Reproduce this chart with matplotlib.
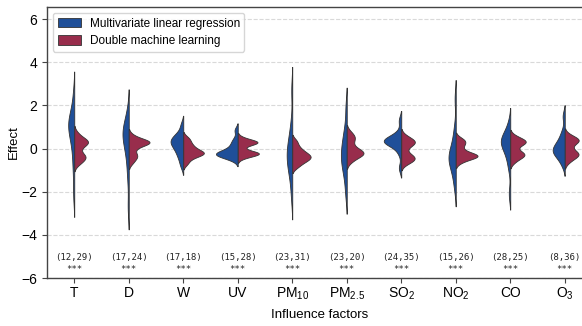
import numpy as np
import pandas as pd
import matplotlib
matplotlib.use("Agg")
import matplotlib.pyplot as plt
from matplotlib.patches import Patch
import seaborn as sns

# factors on the x axis
factors = ["T", "D", "W", "UV", "PM$_{10}$", "PM$_{2.5}$", "SO$_2$", "NO$_2$", "CO", "O$_3$"]
methods = ["Multivariate linear regression", "Double machine learning"]
colors = ["#1f4f99", "#982d4c"]

# effect samples per factor, multivariate linear regression
mlr = [
    [2.5, 1.7, 1.45, 1.3, 1.15, 1.0, 0.85, 0.6, 0.3, -0.3, -1.0, -2.1],
    [1.7, 1.2, 1.0, 0.85, 0.7, 0.55, 0.4, 0.15, -0.2, -0.7, -1.4, -2.7],
    [1.1, 0.75, 0.6, 0.5, 0.42, 0.35, 0.28, 0.2, 0.1, 0.0, -0.15, -0.3, -0.5, -0.8],
    [0.85, 0.45, 0.25, 0.1, -0.05, -0.15, -0.2, -0.23, -0.26, -0.29, -0.33, -0.38, -0.5],
    [2.7, 1.2, 0.6, 0.3, 0.05, -0.15, -0.35, -0.55, -0.75, -1.0, -1.4, -2.2],
    [1.9, 1.0, 0.6, 0.3, 0.05, -0.15, -0.35, -0.55, -0.75, -1.0, -1.4, -2.1],
    [1.3, 0.75, 0.5, 0.43, 0.39, 0.36, 0.33, 0.3, 0.25, 0.12, -0.2, -0.9],
    [2.3, 1.0, 0.5, 0.15, -0.1, -0.25, -0.38, -0.48, -0.58, -0.72, -0.95, -1.3, -1.8],
    [1.15, 0.75, 0.55, 0.45, 0.37, 0.3, 0.2, 0.05, -0.15, -0.45, -0.9, -2.1],
    [1.5, 0.8, 0.5, 0.3, 0.15, 0.05, -0.05, -0.12, -0.2, -0.3, -0.45, -0.75],
]

# effect samples per factor, double machine learning
dml = [
    [0.7, 0.5, 0.4, 0.35, 0.3, 0.25, 0.2, 0.1, -0.1, -0.3, -0.35, -0.4, -0.45, -0.6, -0.7],
    [0.6, 0.42, 0.36, 0.33, 0.3, 0.28, 0.25, 0.2, 0.12, -0.05, -0.25, -0.35, -0.45, -0.65],
    [0.5, 0.35, 0.2, 0.1, 0.0, -0.08, -0.15, -0.2, -0.22, -0.25, -0.3, -0.38, -0.5, -0.7],
    [0.48, 0.34, 0.31, 0.29, 0.27, 0.24, 0.1, -0.12, -0.19, -0.22, -0.24, -0.26, -0.29, -0.42],
    [0.35, 0.12, -0.05, -0.15, -0.25, -0.32, -0.38, -0.43, -0.5, -0.58, -0.68, -0.85],
    [0.75, 0.55, 0.48, 0.3, 0.1, -0.05, -0.12, -0.17, -0.22, -0.27, -0.33, -0.42, -0.6],
    [0.55, 0.4, 0.33, 0.28, 0.22, 0.1, -0.2, -0.35, -0.42, -0.48, -0.55, -0.65],
    [0.45, 0.33, 0.22, 0.05, -0.15, -0.25, -0.3, -0.34, -0.37, -0.4, -0.45, -0.62],
    [0.55, 0.4, 0.35, 0.3, 0.25, 0.15, -0.1, -0.22, -0.28, -0.33, -0.4, -0.6],
    [0.6, 0.45, 0.4, 0.35, 0.3, 0.1, -0.1, -0.2, -0.27, -0.33, -0.4, -0.6],
]

# annotation above each factor
pairs = ["(12,29)", "(17,24)", "(17,18)", "(15,28)", "(23,31)",
         "(23,20)", "(24,35)", "(15,26)", "(28,25)", "(8,36)"]
stars = ["***"] * 10

rows = []
for f, vals in zip(factors, mlr):
    for v in vals:
        rows.append((f, methods[0], v))
for f, vals in zip(factors, dml):
    for v in vals:
        rows.append((f, methods[1], v))
df = pd.DataFrame(rows, columns=["factor", "method", "effect"])

plt.rcParams['font.family'] = ['Liberation Sans', 'DejaVu Sans']
plt.rcParams['mathtext.fontset'] = 'custom'
plt.rcParams['mathtext.rm'] = 'Liberation Sans'
plt.rcParams['mathtext.it'] = 'Liberation Sans:italic'

fig = plt.figure(figsize=(5.82, 3.26), dpi=100)
ax = fig.add_axes([47/582, 48/326, 545/582, 271/326])

ax.set_axisbelow(True)
ax.yaxis.grid(True, linestyle='--', color='#d9d9d9', linewidth=0.8)

sns.violinplot(data=df, x="factor", y="effect", hue="method", order=factors,
               hue_order=methods, split=True, inner=None, palette=colors,
               linewidth=0.6, linecolor='#333333', bw_adjust=0.7,
               legend=False, ax=ax, saturation=1)

for i in range(len(factors)):
    ax.text(i, -5.05, pairs[i], ha='center', va='center', fontsize=6.5,
            family='DejaVu Sans Mono', color='#222222')
    ax.text(i, -5.6, stars[i], ha='center', va='center', fontsize=6.5,
            family='DejaVu Sans Mono', color='#222222')

ax.set_xlim(-0.5, 9.5)
ax.set_ylim(-6, 6.56)
ax.set_yticks([-6, -4, -2, 0, 2, 4, 6])
ax.tick_params(axis='both', labelsize=10, length=3.5, width=0.8, color='#444444')
ax.tick_params(axis='x', pad=2)
ax.set_xlabel("Influence factors", fontsize=9.5, labelpad=5)
ax.set_ylabel("Effect", fontsize=9.5, labelpad=1)
for s in ax.spines.values():
    s.set_color('#444444')
    s.set_linewidth(1.0)

handles = [Patch(facecolor=c, edgecolor='#333333', linewidth=0.6) for c in colors]
ax.legend(handles, methods, loc='upper left', fontsize=8.5, frameon=True,
          edgecolor='#cccccc', handlelength=2.0, handleheight=0.9,
          handletextpad=0.7, borderaxespad=0.5, labelspacing=0.45)

fig.savefig("out.png", dpi=100)
